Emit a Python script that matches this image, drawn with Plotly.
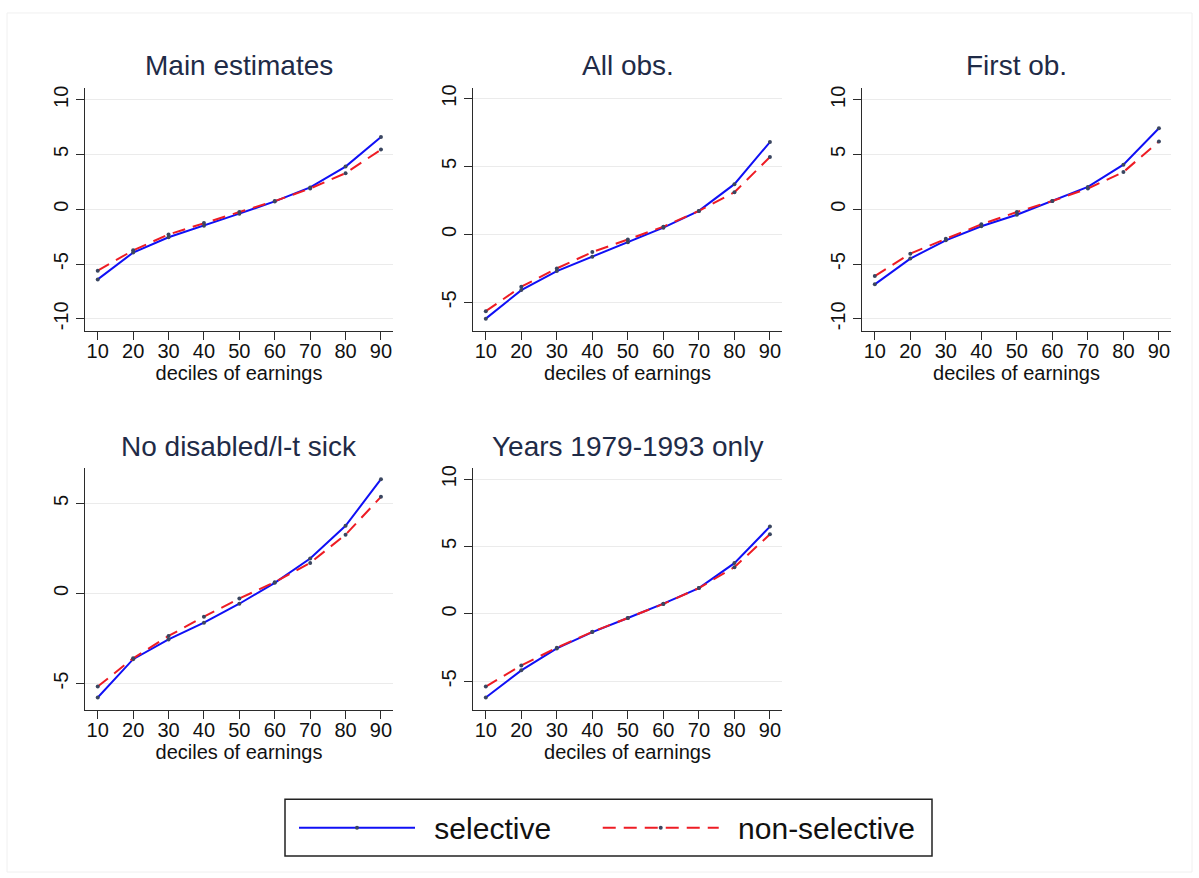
import plotly.graph_objects as go

deciles = [10, 20, 30, 40, 50, 60, 70, 80, 90]

panel_titles = ["Main estimates", "All obs.", "First ob.",
                "No disabled/l-t sick", "Years 1979-1993 only"]
series_names = ["selective", "non-selective"]

main_sel = [-6.4, -3.95, -2.55, -1.5, -0.4, 0.72, 2.0, 3.9, 6.6]
main_non = [-5.6, -3.75, -2.3, -1.25, -0.25, 0.75, 1.9, 3.3, 5.45]

allobs_sel = [-6.2, -4.1, -2.7, -1.65, -0.57, 0.5, 1.73, 3.7, 6.8]
allobs_non = [-5.65, -3.85, -2.5, -1.3, -0.37, 0.57, 1.73, 3.1, 5.7]

first_sel = [-6.85, -4.5, -2.83, -1.55, -0.5, 0.76, 2.04, 4.07, 7.4]
first_non = [-6.1, -4.05, -2.7, -1.37, -0.25, 0.76, 1.9, 3.4, 6.2]

nodis_sel = [-5.78, -3.65, -2.55, -1.62, -0.57, 0.59, 1.94, 3.76, 6.35]
nodis_non = [-5.17, -3.6, -2.36, -1.29, -0.28, 0.63, 1.7, 3.27, 5.37]

years_sel = [-6.2, -4.19, -2.56, -1.35, -0.3, 0.76, 1.92, 3.77, 6.48]
years_non = [-5.39, -3.82, -2.51, -1.33, -0.3, 0.74, 1.92, 3.47, 5.91]

sel_series = [main_sel, allobs_sel, first_sel, nodis_sel, years_sel]
non_series = [main_non, allobs_non, first_non, nodis_non, years_non]

y_ticks = [[-10, -5, 0, 5, 10], [-5, 0, 5, 10], [-10, -5, 0, 5, 10],
           [-5, 0, 5], [-5, 0, 5, 10]]
y_ticklabels = [["-10", "-5", "0", "5", "10"], ["-5", "0", "5", "10"],
                ["-10", "-5", "0", "5", "10"], ["-5", "0", "5"],
                ["-5", "0", "5", "10"]]
y_ranges = [[-11.1, 11.1], [-7.1, 10.8], [-11.1, 11.1],
            [-6.45, 6.95], [-7.1, 10.8]]
x_range = [6.4, 93.4]

W, H = 1199, 878
# pixel boxes of plot areas (left, right, top, bottom)
boxes = [(85, 393, 85, 329), (473, 782, 85, 329), (862, 1171, 85, 329),
         (85, 393, 467, 709), (473, 782, 467, 709)]

BLUE = "#1010f5"
RED = "#ee1c24"
DOT = "#3a4660"
AXC = "#2b2b2b"
TITLEC = "#1f2b47"
FONT = "Liberation Sans, Arial, sans-serif"
LEAD = "\u00a0\u2009"
TRAIL = ["\u00a0" * 5, ""]

fig = go.Figure()
layout = dict(
    width=W, height=H,
    margin=dict(l=0, r=0, t=0, b=0),
    paper_bgcolor="white", plot_bgcolor="white",
    font=dict(family=FONT, color="#111111"),
    showlegend=True,
)
annotations = []
for i in range(5):
    n = "" if i == 0 else str(i + 1)
    l, r, t, b = boxes[i]
    xd = [l / W, r / W]
    yd = [1 - b / H, 1 - t / H]
    layout["xaxis" + n] = dict(
        domain=xd, anchor="y" + n, range=x_range,
        tickvals=deciles, ticks="outside", ticklen=8, tickwidth=1.3,
        tickcolor=AXC, showline=True, linecolor=AXC, linewidth=1.3,
        showgrid=False, zeroline=False, ticklabelstandoff=-6,
        tickfont=dict(size=20, family=FONT, color="#111"),
        title=dict(text="deciles of earnings", standoff=0,
                   font=dict(size=20, family=FONT, color="#111")),
    )
    layout["yaxis" + n] = dict(
        domain=yd, anchor="x" + n, range=y_ranges[i],
        tickvals=y_ticks[i], ticktext=y_ticklabels[i],
        ticks="outside", ticklen=8, tickwidth=1.3,
        tickcolor=AXC, showline=True, linecolor=AXC, linewidth=1.3,
        showgrid=True, gridcolor="#ebebeb", gridwidth=1, zeroline=False,
        tickangle=-90,
        tickfont=dict(size=20, family=FONT, color="#111"),
    )
    annotations.append(dict(
        text=panel_titles[i], xref="paper", yref="paper",
        x=(l + r) / 2 / W, y=1 - (t - 22) / H, xanchor="center",
        yanchor="middle", showarrow=False,
        font=dict(size=28, family=FONT, color=TITLEC),
    ))
    fig.add_trace(go.Scatter(
        x=deciles, y=sel_series[i], mode="lines+markers",
        line=dict(color=BLUE, width=2),
        marker=dict(color=DOT, size=4),
        name=LEAD + series_names[0] + TRAIL[0], legendgroup="sel",
        showlegend=(i == 0), xaxis="x" + n, yaxis="y" + n,
    ))
    fig.add_trace(go.Scatter(
        x=deciles, y=non_series[i], mode="lines+markers",
        line=dict(color=RED, width=2, dash="13px,8px"),
        marker=dict(color=DOT, size=4),
        name=LEAD + series_names[1] + TRAIL[1], legendgroup="non",
        showlegend=(i == 0), xaxis="x" + n, yaxis="y" + n,
    ))

layout["annotations"] = annotations
layout["legend"] = dict(
    orientation="h", x=294 / W, xanchor="left", y=1 - 827.5 / H,
    yanchor="middle", borderwidth=0,
    bgcolor="rgba(0,0,0,0)", font=dict(size=30, family=FONT, color="#111"),
    itemwidth=116, entrywidth=0, tracegroupgap=0,
)
layout["shapes"] = [
    dict(type="rect", xref="paper", yref="paper",
         x0=7 / W, x1=1192 / W, y0=1 - 872 / H, y1=1 - 10 / H,
         line=dict(color="#f0f0f0", width=1),
         fillcolor="rgba(0,0,0,0)", layer="below"),
    dict(type="rect", xref="paper", yref="paper",
         x0=285 / W, x1=932 / W, y0=1 - 856 / H, y1=1 - 799 / H,
         line=dict(color="#222222", width=1.5),
         fillcolor="rgba(0,0,0,0)", layer="below"),
]
fig.update_layout(**layout)
fig.write_html("out.html", config={"displayModeBar": False},
               post_script="document.body.style.margin='0';document.body.style.overflow='hidden';")
